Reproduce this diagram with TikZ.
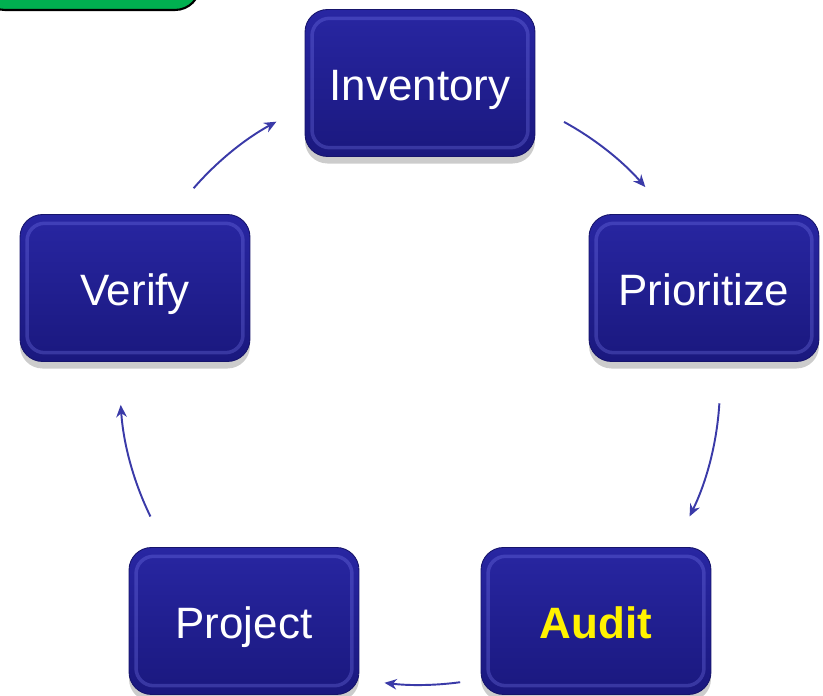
\documentclass[tikz,border=0pt]{standalone}
\usepackage{fontspec}
\setmainfont{Liberation Sans}
\usetikzlibrary{shadows,arrows.meta}
\definecolor{stageTop}{RGB}{40,38,162}
\definecolor{stageBot}{RGB}{26,24,126}
\definecolor{stageEdge}{RGB}{125,125,240}
\definecolor{flowBlue}{RGB}{58,58,168}
\definecolor{tagGreen}{RGB}{0,176,80}
\newcommand{\stageW}{4.6cm}
\newcommand{\stageH}{2.94cm}
\newcommand{\ringR}{6cm}

\tikzset{
	stage/.style={rounded corners=0.45cm, minimum width=\stageW, minimum height=\stageH,
		top color=stageTop, bottom color=stageBot, draw=stageBot!85!black, line width=0.5pt,
		text=white, font=\fontsize{25}{30}\selectfont, text height=22pt, text depth=2pt,
		drop shadow={shadow xshift=0pt, shadow yshift=-4pt, opacity=0.2, fill=black},
		path picture={\draw[stageEdge, opacity=0.3, line width=2pt, rounded corners=0.35cm]
			([shift={(4pt,5pt)}]path picture bounding box.south west) rectangle
			([shift={(-4pt,-5pt)}]path picture bounding box.north east);}},
	flow/.style={flowBlue, line width=1.1pt, -{Stealth[length=7pt,width=6pt]}}
}

\begin{document}
\begin{tikzpicture}[x=0.02cm, y=0.02cm]
		\useasboundingbox (0,0) rectangle (823,696);
		\coordinate (hub) at (420,311);
		% green tab, cut by the page
		\draw[fill=tagGreen, line width=1.2pt, rounded corners=0.5cm] (-20,686) rectangle (200,760);

		\node[stage] (inventory) at (420,613) {Inventory};
		\node[stage] (prioritize) at (704,408) {Prioritize};
		\node[stage] (audit) at (596,75) {\textbf{\textcolor{yellow}{Audit}}};
		\node[stage] (project) at (244,75) {Project};
		\node[stage] (verify) at (135,408) {Verify};

		\foreach \from/\to in {139/118.6, 61.3/41.3, -3.5/-26, -82.3/-96.8, 206/183.8}
			\draw[flow] ([shift={(\from:\ringR)}]hub) arc[start angle=\from, end angle=\to, radius=\ringR];
	\end{tikzpicture}
\end{document}
